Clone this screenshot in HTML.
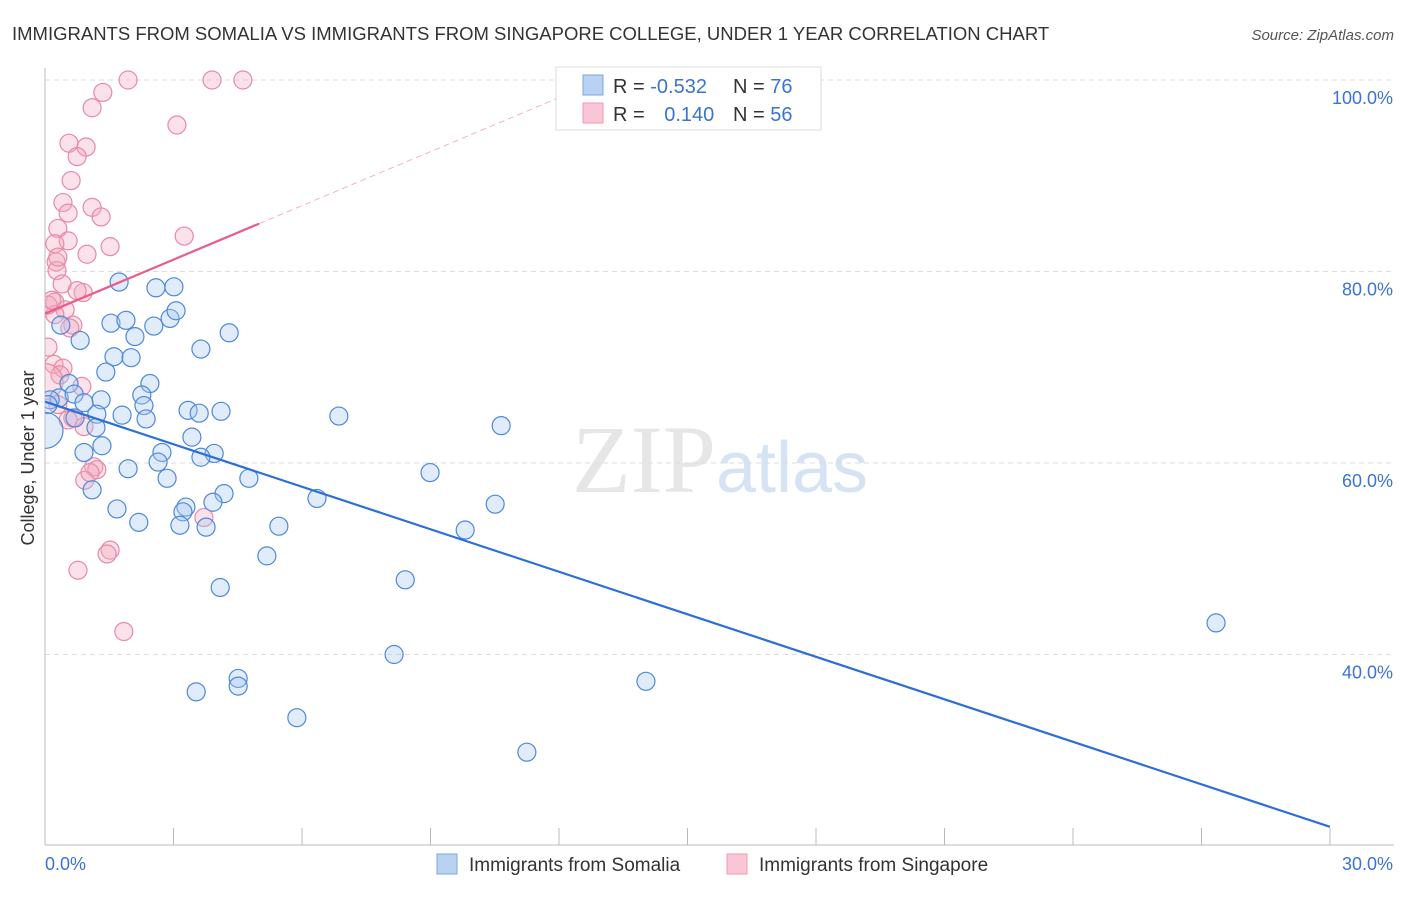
<!DOCTYPE html>
<html><head><meta charset="utf-8"><style>
body{margin:0;background:#fff;width:1406px;height:892px;overflow:hidden;font-family:"Liberation Sans",sans-serif}
</style></head><body>
<svg id="chart" width="1406" height="892" xmlns="http://www.w3.org/2000/svg" font-family="Liberation Sans, sans-serif">
<defs><clipPath id="plotclip"><rect x="45" y="60" width="1360" height="790"/></clipPath></defs>
<text x="12" y="40" font-size="18.5" fill="#333">IMMIGRANTS FROM SOMALIA VS IMMIGRANTS FROM SINGAPORE COLLEGE, UNDER 1 YEAR CORRELATION CHART</text>
<text x="1394" y="40" font-size="15" fill="#555" text-anchor="end" font-style="italic">Source: ZipAtlas.com</text>
<text x="720" y="492" font-size="96" fill="#e6e6e6" text-anchor="middle" font-family="Liberation Serif, serif">ZIP<tspan fill="#d6e3f5" font-family="Liberation Sans, sans-serif" font-size="72">atlas</tspan></text>
<g id="grid"></g><g id="axes"></g><g id="marks" clip-path="url(#plotclip)"></g>
<text transform="translate(34,458) rotate(-90)" font-size="18" fill="#333" text-anchor="middle">College, Under 1 year</text>
<g>
<rect x="556" y="67" width="265" height="63" fill="#fff" stroke="#ddd"/>
<rect x="583" y="75" width="20" height="20" fill="#b9d2f3" stroke="#7aa5e0"/>
<rect x="583" y="103" width="20" height="20" fill="#f9c6d5" stroke="#ee9ab3"/>
<text x="613" y="93" font-size="20" fill="#333">R = <tspan fill="#3a73d6">-0.532</tspan></text>
<text x="733" y="93" font-size="20" fill="#333">N = <tspan fill="#3a73d6">76</tspan></text>
<text x="613" y="121" font-size="20" fill="#333">R = <tspan fill="#3a73d6" dx="14">0.140</tspan></text>
<text x="733" y="121" font-size="20" fill="#333">N = <tspan fill="#3a73d6">56</tspan></text>
</g>
<g>
<rect x="437" y="854" width="20" height="20" fill="#b9d2f3" stroke="#7aa5e0"/>
<text x="469" y="871" font-size="19" fill="#333">Immigrants from Somalia</text>
<rect x="727" y="854" width="20" height="20" fill="#f9c6d5" stroke="#ee9ab3"/>
<text x="759" y="871" font-size="19" fill="#333">Immigrants from Singapore</text>
</g>
</svg>
<script>
const blueX=[1.73,2.59,3.01,1.54,1.89,2.54,2.92,3.06,4.30,0.82,2.10,0.37,1.61,2.01,3.64,1.42,2.45,0.56,2.26,0.33,0.12,0.68,1.31,0.91,2.31,3.34,3.60,4.11,6.86,1.21,1.80,2.36,0.70,1.19,10.65,3.43,0.91,2.73,1.33,3.95,3.64,2.64,1.94,8.99,2.85,4.76,1.10,4.18,3.92,6.35,3.29,3.22,1.68,2.19,3.15,3.76,5.46,10.51,9.81,5.18,8.41,4.09,27.34,8.15,4.51,4.51,3.53,14.03,5.88,11.25,0.07];
const blueY=[78.9,78.3,78.4,74.6,74.9,74.3,75.1,75.9,73.6,72.8,73.2,74.4,71.1,71.0,71.9,69.5,68.3,68.3,67.1,66.8,66.6,67.2,66.6,66.3,66.0,65.5,65.2,65.4,64.9,65.1,65.0,64.6,64.7,63.7,63.9,62.7,61.1,61.1,61.8,61.0,60.6,60.1,59.4,59.0,58.4,58.4,57.2,56.8,55.9,56.3,55.4,54.9,55.2,53.8,53.5,53.3,53.4,55.7,53.0,50.3,47.8,47.0,43.3,40.0,37.5,36.7,36.1,37.2,33.4,29.8,66.1];
const pinkX=[1.94,3.90,4.62,1.35,1.10,3.08,0.56,0.96,0.75,0.61,0.42,1.10,0.54,1.31,0.30,3.25,1.52,0.54,0.23,0.98,0.26,0.28,0.40,0.89,0.23,0.75,0.47,0.65,0.58,0.23,0.07,0.21,0.42,0.86,0.30,0.65,0.91,1.14,1.21,0.93,1.05,3.71,1.52,1.45,0.77,1.84,0.07,0.16,0.30,0.35,0.54];
const pinkY=[100,100,100,98.7,97.1,95.3,93.4,93.0,92.0,89.5,87.2,86.7,86.1,85.7,84.5,83.7,82.6,83.2,82.9,81.8,81.0,80.1,78.7,77.8,76.8,78.0,76.0,74.4,74.1,75.5,72.1,70.3,69.9,68.0,66.1,64.7,63.8,59.6,59.3,58.2,59.0,54.3,50.9,50.5,48.8,42.4,76.5,77.0,81.5,69.2,64.5];
const bigBlue=[[0,63.4]];
const bigPink=[[0,68.5]];
const blueFit=[66.4,-1.48];
const pinkFit=[75.6,1.88];
const yTicks=[100,80,60,40];
const yTickLabels=["100.0%","80.0%","60.0%","40.0%"];
const xTicks=[0,3,6,9,12,15,18,21,24,27,30];

const NS="http://www.w3.org/2000/svg";
const X0=45,X1=1330,Xmax=30,Y100=80,PXY=9.575;
const sx=v=>X0+(X1-X0)*v/Xmax;
const sy=v=>Y100+(100-v)*PXY;
function mk(tag,attrs,parent){const e=document.createElementNS(NS,tag);for(const k in attrs)e.setAttribute(k,attrs[k]);parent.appendChild(e);return e;}
const grid=document.getElementById('grid'),axes=document.getElementById('axes'),marks=document.getElementById('marks');
yTicks.forEach((t,i)=>{
 const l=mk('line',{x1:X0,x2:1394,y1:sy(t),y2:sy(t),stroke:'#ddd','stroke-dasharray':'5,4'},grid);
 
 
 const tx=mk('text',{x:1393,y:sy(t)+24,'font-size':18,fill:'#3a73d6','text-anchor':'end'},axes);
 tx.textContent=yTickLabels[i];
 
 
});
const ax=mk('line',{x1:X0,x2:X0,y1:68,y2:845,stroke:'#bbb'},axes);


const bx=mk('line',{x1:X0,x2:1394,y1:845,y2:845,stroke:'#bbb'},axes);


xTicks.forEach(t=>{
 const l=mk('line',{x1:sx(t),x2:sx(t),y1:828,y2:845,stroke:'#bbb'},axes);
 
 
});
const xl0=mk('text',{x:45,y:870,'font-size':18,fill:'#3a73d6'},axes);xl0.textContent=xTicks[0].toFixed(1)+'%';


const xl1=mk('text',{x:1393,y:870,'font-size':18,fill:'#3a73d6','text-anchor':'end'},axes);xl1.textContent=xTicks[xTicks.length-1].toFixed(1)+'%';



function dots(xs,ys,fill,stroke,name,r){
 for(let i=0;i<xs.length;i++){
  const c=mk('circle',{cx:sx(xs[i]),cy:sy(ys[i]),r:r,fill:fill,'fill-opacity':0.35,stroke:stroke,'stroke-width':1.2},marks);
  
  
 }
}
dots(pinkX,pinkY,'#f4a8bf','#e889a6','singapore-point',9);
dots(bigPink.map(p=>p[0]),bigPink.map(p=>p[1]),'#f4a8bf','#e889a6','singapore-point-large',18);
dots(blueX,blueY,'#a9c8f0','#4d88dc','somalia-point',9);
dots(bigBlue.map(p=>p[0]),bigBlue.map(p=>p[1]),'#a9c8f0','#4d88dc','somalia-point-large',18);
const bl=mk('line',{x1:sx(0),y1:sy(blueFit[0]),x2:sx(30),y2:sy(blueFit[0]+blueFit[1]*30),stroke:'#2c6fd6','stroke-width':2.2},marks);


const pl=mk('line',{x1:sx(0),y1:sy(pinkFit[0]),x2:sx(5),y2:sy(pinkFit[0]+pinkFit[1]*5),stroke:'#e85d89','stroke-width':2.2},marks);


const xe=(100-pinkFit[0])/pinkFit[1];
const pd=mk('line',{x1:sx(5),y1:sy(pinkFit[0]+pinkFit[1]*5),x2:sx(xe),y2:sy(100),stroke:'#f3b3c6','stroke-width':1,'stroke-dasharray':'6,4'},marks);


</script>
</body></html>
